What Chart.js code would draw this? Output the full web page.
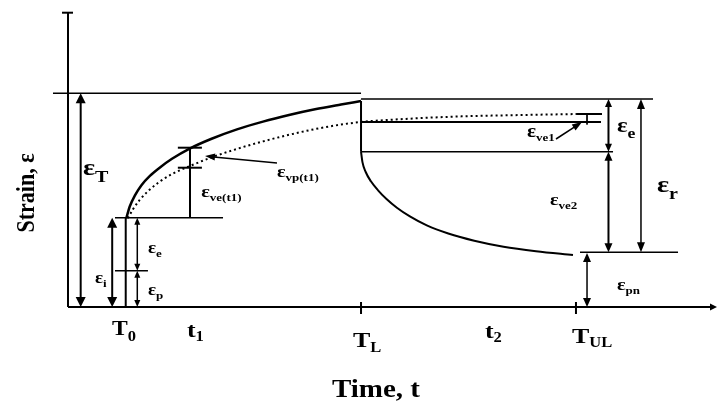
<!DOCTYPE html>
<html>
<head>
<meta charset="utf-8">
<script src="https://cdn.jsdelivr.net/npm/chart.js@4.4.1/dist/chart.umd.min.js"></script>
<style>
  html, body { margin: 0; padding: 0; background: #ffffff; }
  #c { display: block; }
</style>
</head>
<body>
<canvas id="c" width="718" height="405"></canvas>
<script>
// ---------------- data (time units, strain units) ----------------
const creepTime   = [8.97, 9.5, 10.3, 11.3, 12.6, 14.2, 16.0, 18.72, 22, 26, 30, 34, 38, 42, 45.08];
const creepStrain = [29.57, 33.5, 37.2, 40.6, 43.7, 46.6, 49.4, 52.8, 56.0, 59.2, 61.8, 64.0, 65.9, 67.5, 68.67];

const vpTime   = [9.23, 10.0, 11.0, 12.3, 14.0, 16.0, 18.77, 22, 26, 30, 34, 38, 42, 45.08, 52, 60, 70, 78.3];
const vpStrain = [29.57, 32.6, 35.6, 38.6, 41.6, 44.3, 47.0, 49.8, 52.7, 55.2, 57.4, 59.3, 60.8, 61.67, 62.7, 63.5, 64.0, 64.33];

const recoveryTime   = [45.08, 45.3, 45.8, 46.6, 47.7, 49.0, 50.6, 52.6, 55.2, 58.5, 62.5, 67, 72, 77.69];
const recoveryStrain = [51.77, 48.3, 45.0, 41.9, 38.9, 36.0, 33.1, 30.2, 27.2, 24.5, 22.1, 20.1, 18.6, 17.33];

// key instants and strain levels
const T0 = 8.88, t1 = 18.77, TL = 45.08, TUL = 78.15;
const epsTotal = 71.23, epsAtTL = 69.33, epsInit = 29.77, epsMid = 12.1;
const epsVe1Top = 64.33, epsVe1Bot = 61.67, epsRec = 51.77, epsResid = 18.23;
const epsT1Top = 53.1, epsT1Bot = 46.43, axisTop = 98.1;

// straight guide lines [t1, s1, t2, s2]
const guideLines = [
  [0, 0, 0, axisTop],
  [-0.92, axisTop, 0.77, axisTop],
  [0, 0, 99.2, 0],
  [-2.31, epsTotal, TL, epsTotal],
  [TL, epsAtTL, 90.0, epsAtTL],
  [TL, 68.67, TL, epsRec],
  [TL, epsVe1Bot, 82.0, epsVe1Bot],
  [TL, epsRec, 83.85, epsRec],
  [78.3, epsVe1Top, 82.15, epsVe1Top],
  [79.85, epsVe1Top, 79.85, 60.83],
  [78.77, epsResid, 93.85, epsResid],
  [7.23, epsInit, 23.85, epsInit],
  [7.23, epsMid, 12.3, epsMid],
  [T0, 0, T0, epsInit],
  [t1, epsInit, t1, epsT1Top],
  [16.9, epsT1Top, 20.6, epsT1Top],
  [16.9, epsT1Bot, 20.6, epsT1Bot],
  [TL, 1.67, TL, -2.33],
  [TUL, 1.67, TUL, -2.33]
];
const guideWidths = [2, 2, 2, 1.5, 1.5, 2, 2, 1.5, 2, 1, 1.5, 1.5, 1.5, 2, 2, 2, 2, 2, 2];

// double-headed vertical arrows [t, sLow, sHigh]
const dimArrows = [
  [1.95, 0, epsTotal],
  [6.8, 0, epsInit],
  [10.66, epsMid, epsInit],
  [10.66, 0, epsMid],
  [83.15, epsRec, epsAtTL],
  [83.15, epsResid, epsRec],
  [88.15, epsResid, epsAtTL],
  [79.85, 0, 18.0]
];
// pointer arrows [tFrom, sFrom, tTo, sTo]
const pointerArrows = [
  [32.15, 48.0, 21.08, 50.3],
  [75.08, 56.0, 79.08, 61.67]
];

// strain component labels
const epsSubs   = ['T', 'vp(t1)', 've(t1)', 'e', 'i', 'p', 've1', 'e', 've2', 'r', 'pn'];
const epsTime   = [2.31, 32.15, 20.5, 12.3, 4.15, 12.3, 70.6, 84.46, 74.15, 90.6, 84.46];
const epsStrain = [44.0, 43.33, 36.67, 18.0, 8.0, 4.0, 56.67, 58.33, 34.0, 38.33, 5.67];

// time axis labels
const tickMain = ['T', 't', 'T', 't', 'T'];
const tickSubs = ['0', '1', 'L', '2', 'UL'];
const tickTime = [6.77, 18.3, 43.85, 64.15, 77.54];

const xTitle = 'Time, t';
const yTitle = 'Strain, \u03B5';

// ---------------- styles ----------------
const FONT = '"Liberation Serif", "Times New Roman", serif';
const SX = 1.18;
const epsStyle = [[24,17],[17,11],[17,11],[16,11],[16,11],[16,11],[18,11],[21,15],[17,11],[24,17],[17,11]];
const tickStyle = [[20,14,28,6],[22,14,30,4],[22,14,40,5],[22,14,31,4],[22,14,36,4]];
const arrowStyle = [[2,10,10],[2,10,10],[1.5,6,7],[1.5,6,7],[2,7,8],[2,8,9],[1.5,8,10],[1.5,8,9]];

// ---------------- datasets ----------------
const toPts = (xs, ys) => xs.map((x, i) => ({x: x, y: ys[i]}));
const datasets = [];
datasets.push({ data: toPts(creepTime, creepStrain), borderColor: '#000', borderWidth: 2.5,
  cubicInterpolationMode: 'monotone' });
datasets.push({ data: toPts(vpTime, vpStrain), borderColor: '#000', borderWidth: 2,
  borderDash: [2, 3], cubicInterpolationMode: 'monotone' });
datasets.push({ data: toPts(recoveryTime, recoveryStrain), borderColor: '#000', borderWidth: 2,
  cubicInterpolationMode: 'monotone' });
guideLines.forEach((g, i) => datasets.push({
  data: [{x: g[0], y: g[1]}, {x: g[2], y: g[3]}], borderColor: '#000', borderWidth: guideWidths[i]
}));
datasets.forEach(d => { d.showLine = true; d.pointRadius = 0; d.clip = false; d.fill = false; });

function head(ctx, x, y, ang, len, w) {
  ctx.beginPath();
  ctx.moveTo(x, y);
  ctx.lineTo(x - len * Math.cos(ang) + (w / 2) * Math.sin(ang), y - len * Math.sin(ang) - (w / 2) * Math.cos(ang));
  ctx.lineTo(x - len * Math.cos(ang) - (w / 2) * Math.sin(ang), y - len * Math.sin(ang) + (w / 2) * Math.cos(ang));
  ctx.closePath();
  ctx.fill();
}

function label(ctx, x, y, main, sub, size, subSize, drop) {
  ctx.save();
  ctx.translate(x, y);
  ctx.scale(SX, 1);
  ctx.font = 'bold ' + size + 'px ' + FONT;
  ctx.fillText(main, 0, 0);
  const w = ctx.measureText(main).width;
  ctx.font = 'bold ' + subSize + 'px ' + FONT;
  ctx.fillText(sub, w, drop);
  ctx.restore();
}

const annot = {
  id: 'annot',
  afterDatasetsDraw(chart) {
    const ctx = chart.ctx, xs = chart.scales.x, ys = chart.scales.y;
    const px = v => xs.getPixelForValue(v), py = v => ys.getPixelForValue(v);
    ctx.save();
    ctx.fillStyle = '#000'; ctx.strokeStyle = '#000';
    ctx.textBaseline = 'alphabetic'; ctx.textAlign = 'left';
    // x-axis arrow head
    head(ctx, px(100) - 1, py(0), 0, 7, 7);
    // dimension arrows
    dimArrows.forEach((a, i) => {
      const [lw, w, len] = arrowStyle[i];
      const x = px(a[0]), yl = py(a[1]), yh = py(a[2]);
      ctx.lineWidth = lw;
      ctx.beginPath(); ctx.moveTo(x, yl - len + 1); ctx.lineTo(x, yh + len - 1); ctx.stroke();
      head(ctx, x, yh, -Math.PI / 2, len, w);
      head(ctx, x, yl, Math.PI / 2, len, w);
    });
    // pointer arrows
    pointerArrows.forEach(p => {
      const x1 = px(p[0]), y1 = py(p[1]), x2 = px(p[2]), y2 = py(p[3]);
      const ang = Math.atan2(y2 - y1, x2 - x1);
      ctx.lineWidth = 1.5;
      ctx.beginPath(); ctx.moveTo(x1, y1); ctx.lineTo(x2 - 6 * Math.cos(ang), y2 - 6 * Math.sin(ang)); ctx.stroke();
      head(ctx, x2, y2, ang, 10, 7);
    });
    // epsilon labels
    epsSubs.forEach((s, i) => {
      const [sz, ss] = epsStyle[i];
      label(ctx, px(epsTime[i]), py(epsStrain[i]), '\u03B5', s, sz, ss, ss * 0.4);
    });
    // time labels
    tickMain.forEach((m, i) => {
      const [sz, ss, off, drop] = tickStyle[i];
      label(ctx, px(tickTime[i]), py(0) + off, m, tickSubs[i], sz, ss, drop);
    });
    // axis titles
    ctx.save();
    ctx.font = 'bold 25px ' + FONT;
    ctx.translate(376, 397);
    ctx.scale(1.16, 1);
    ctx.textAlign = 'center';
    ctx.fillText(xTitle, 0, 0);
    ctx.restore();
    ctx.save();
    ctx.font = 'bold 22px ' + FONT;
    ctx.translate(34, 193);
    ctx.rotate(-Math.PI / 2);
    ctx.scale(1, 1.18);
    ctx.textAlign = 'center';
    ctx.fillText(yTitle, 0, 0);
    ctx.restore();
    ctx.restore();
  }
};

new Chart(document.getElementById('c'), {
  type: 'scatter',
  data: { datasets: datasets },
  options: {
    responsive: false,
    animation: false,
    devicePixelRatio: 1,
    layout: { padding: { left: 48.5, right: 0, top: 7, bottom: 92 } },
    scales: {
      x: { type: 'linear', min: -3, max: 100, display: false },
      y: { type: 'linear', min: -2, max: 100, display: false }
    },
    plugins: { legend: { display: false }, tooltip: { enabled: false }, title: { display: false } },
    elements: { line: { tension: 0 } }
  },
  plugins: [annot]
});
</script>
</body>
</html>
